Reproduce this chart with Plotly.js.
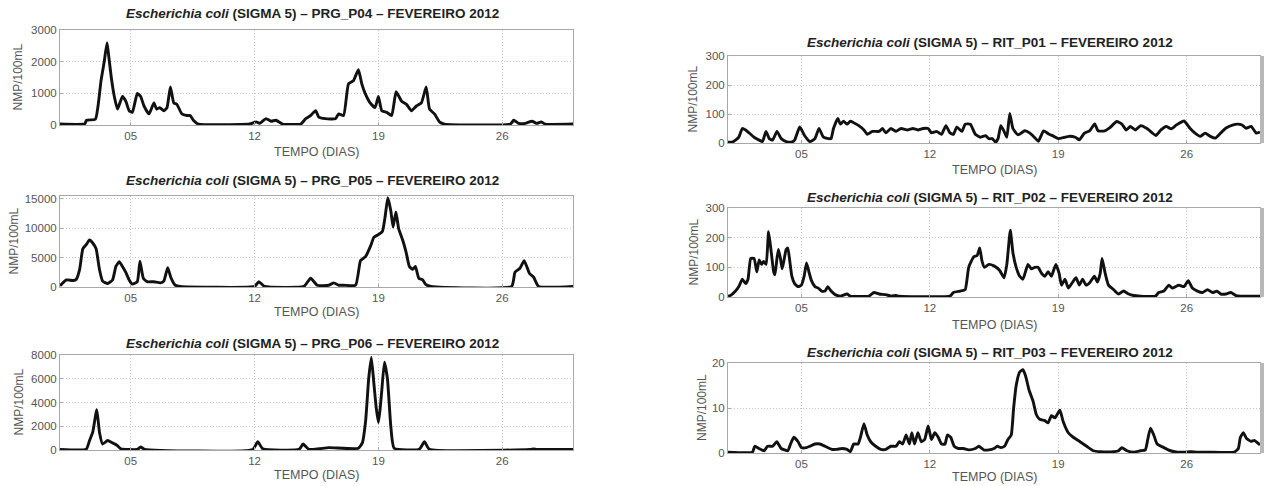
<!DOCTYPE html>
<html><head><meta charset="utf-8">
<script src="https://cdn.plot.ly/plotly-3.0.1.min.js"></script>
<style>html,body{margin:0;padding:0;background:#fff;}#chart{width:1264px;height:486px;}</style>
</head><body><div id="chart"></div>
<script>
// ---- data ----
const dayTicks = [5, 12, 19, 26];
const dayTickLabels = ['05', '12', '19', '26'];
const monthLabel = 'FEVEREIRO 2012';
const stationNames = ['PRG_P04', 'PRG_P05', 'PRG_P06', 'RIT_P01', 'RIT_P02', 'RIT_P03'];

const p04Days = [1,2.4,2.5,3.0,3.15,3.32,3.5,3.66,3.75,3.9,4.07,4.25,4.53,4.72,4.91,5.09,5.37,5.56,5.75,6.03,6.31,6.46,6.64,6.87,7.05,7.24,7.43,7.61,7.89,8.17,8.36,8.54,8.82,11.72,12.09,12.28,12.65,12.93,13.21,13.58,14.61,14.89,15.17,15.45,15.63,16.0,16.57,16.75,17.03,17.31,17.59,17.87,18.06,18.25,18.53,18.81,19.0,19.19,19.47,19.75,20.0,20.31,20.59,20.87,21.15,21.43,21.7,21.89,22.17,22.45,22.73,26.46,26.65,26.93,27.3,27.68,27.96,28.2,28.42,30];
const p04Vals = [30,40,150,180,600,1400,2000,2600,2200,1500,900,500,900,750,450,400,1000,900,600,350,700,500,550,450,550,1200,700,650,350,300,300,150,30,30,100,50,200,120,150,30,30,200,300,450,250,200,200,350,300,1300,1400,1750,1300,1000,700,550,900,450,400,300,1050,750,650,450,600,700,1200,500,350,100,30,30,150,50,50,120,50,100,30,30];
const p04Ticks = [0, 1000, 2000, 3000];

const p05Days = [1,1.36,1.74,1.92,2.11,2.29,2.48,2.67,2.85,3.04,3.23,3.41,3.69,3.97,4.16,4.35,4.53,4.72,4.91,5.09,5.37,5.52,5.71,5.93,6.31,6.68,6.87,7.09,7.28,7.52,7.8,12.0,12.24,12.56,14.79,15.17,15.54,16.19,16.48,16.76,17.05,17.71,17.99,18.28,18.56,18.75,19.04,19.23,19.38,19.53,19.7,19.83,19.99,20.14,20.37,20.56,20.75,20.94,21.09,21.28,21.5,21.69,21.98,26.53,26.72,27.0,27.24,27.54,27.77,28.05,30];
const p05Vals = [200,1200,1100,1300,3000,6500,7200,8000,7500,6500,3000,1000,600,1200,3500,4300,3500,2500,1200,500,900,4400,1500,900,900,700,1000,3300,1500,300,100,100,900,100,100,1500,300,300,700,300,300,300,4500,5200,7000,8500,9000,9500,12000,15200,13000,10200,12800,10000,8000,6000,3500,3000,3500,1500,1200,400,100,100,2500,3200,4500,2300,1700,100,100];
const p05Ticks = [0, 5000, 10000, 15000];

const p06Days = [1,2.48,2.67,2.85,3.08,3.23,3.41,3.69,3.97,4.22,4.44,5.37,5.56,5.78,11.9,12.18,12.46,14.51,14.74,15.07,15.63,16.19,17.87,18.09,18.28,18.45,18.6,18.75,18.88,19.0,19.1,19.19,19.34,19.51,19.7,19.89,21.31,21.6,21.88,27.58,27.77,27.96,30];
const p06Vals = [50,60,800,1500,3400,1500,500,800,600,400,100,50,250,60,50,700,100,50,500,60,100,200,150,600,2500,6000,7800,5500,3500,2300,3500,5000,7400,6000,2000,150,60,700,60,50,80,50,50];
const p06Ticks = [0, 2000, 4000, 6000, 8000];

const r01Days = [1,1.22,1.41,1.59,1.78,1.96,2.15,2.42,2.7,2.88,3.07,3.25,3.43,3.67,3.9,4.17,4.45,4.63,4.91,5.18,5.46,5.74,5.96,6.2,6.47,6.62,6.75,6.99,7.12,7.3,7.49,7.67,7.85,8.13,8.41,8.59,8.87,9.24,9.42,9.6,9.88,10.16,10.43,10.8,11.08,11.35,11.63,11.91,12.09,12.37,12.64,12.88,13.1,13.29,13.47,13.75,13.93,14.21,14.48,14.76,15.04,15.22,15.41,15.59,15.72,15.87,16.05,16.2,16.36,16.53,16.81,17.18,17.46,17.74,17.92,18.2,18.48,18.76,19.0,19.32,19.59,19.96,20.15,20.43,20.71,20.99,21.17,21.54,21.82,22.19,22.47,22.71,22.93,23.21,23.49,23.86,24.14,24.32,24.6,24.88,25.16,25.44,25.86,26.18,26.46,26.74,27.01,27.29,27.57,27.85,28.13,28.5,28.78,29.02,29.24,29.52,29.8,30];
const r01Vals = [3,3,10,20,50,45,35,20,10,5,40,15,10,40,15,5,3,10,55,25,5,15,50,20,15,15,50,85,65,75,65,75,70,60,45,30,40,40,50,35,50,40,50,45,50,45,50,50,35,40,30,60,35,30,55,40,65,65,30,20,25,15,15,3,15,60,40,20,102,50,28,42,34,17,6,42,31,23,15,19,23,19,11,34,42,66,42,42,53,74,65,45,57,45,60,49,34,26,45,57,49,62,76,51,34,23,34,23,17,34,51,62,65,62,51,57,34,38];
const r01Ticks = [0, 100, 200, 300];

const r02Days = [1.0,1.13,1.41,1.59,1.78,1.96,2.09,2.24,2.42,2.57,2.7,2.83,2.94,3.08,3.21,3.34,3.49,3.56,3.67,3.75,3.86,3.95,4.04,4.17,4.26,4.37,4.48,4.63,4.82,5.0,5.15,5.28,5.41,5.55,5.74,5.92,6.1,6.29,6.44,6.62,6.84,7.12,7.49,7.67,8.68,8.96,9.24,9.6,9.88,10.16,10.34,13.1,13.29,13.66,13.93,14.12,14.39,14.58,14.72,14.85,14.98,15.22,15.5,15.8,16.05,16.2,16.39,16.53,16.71,16.9,17.08,17.35,17.54,17.72,17.9,18.09,18.27,18.45,18.63,18.87,19.05,19.18,19.37,19.55,19.73,19.97,20.15,20.33,20.52,20.74,20.97,21.14,21.29,21.39,21.56,21.74,22.02,22.29,22.56,22.84,23.11,23.48,24.3,24.48,24.76,25.03,25.22,25.4,25.58,25.86,26.09,26.31,26.59,26.86,27.14,27.41,27.65,27.87,28.14,28.41,28.69,28.96,30];
const r02Vals = [3,5,20,35,60,45,60,130,130,85,125,110,120,110,220,160,85,75,130,160,130,95,120,160,165,120,70,45,35,40,70,115,85,55,35,30,20,20,35,20,8,3,10,3,3,15,10,8,3,5,3,3,15,20,25,100,135,140,165,120,100,110,105,90,65,110,225,150,100,70,60,110,95,100,100,80,70,85,70,110,80,40,60,30,45,65,40,60,40,50,70,50,80,130,80,40,25,10,20,10,5,3,3,15,20,40,30,35,40,35,55,30,20,15,25,15,20,10,10,15,5,3,3];
const r02Ticks = [0, 100, 200, 300];

const r03Days = [1,2.33,2.46,2.7,2.97,3.16,3.43,3.66,3.9,4.26,4.41,4.59,4.82,5.0,5.28,5.46,5.74,6.01,6.29,6.66,6.93,7.21,7.49,7.67,7.85,8.09,8.22,8.41,8.59,8.78,9.05,9.33,9.6,9.88,10.16,10.34,10.52,10.71,10.89,11.02,11.17,11.35,11.54,11.72,11.91,12.09,12.27,12.46,12.64,12.83,12.96,13.14,13.33,13.56,13.84,14.12,14.48,14.67,14.94,15.22,15.5,15.68,15.87,16.07,16.26,16.44,16.57,16.71,16.9,17.08,17.23,17.41,17.63,17.81,17.99,18.27,18.45,18.63,18.82,19.09,19.27,19.55,19.82,20.19,20.55,20.92,21.29,22.02,22.29,22.47,22.75,23.11,23.48,23.75,23.88,24.03,24.21,24.39,24.76,25.12,25.49,25.86,26.22,26.59,27.14,28.6,28.82,28.93,29.09,29.27,29.51,29.69,29.88,30];
const r03Vals = [0.2,0.2,1.5,1,0.5,1.5,1.5,2.5,1,0.5,2,3.5,2.5,1.2,1.2,1.5,2,2,1.5,0.8,0.8,1,0.8,0.3,2,2,3.5,6.5,4,2.5,1.5,0.8,0.8,1.5,1.5,2.5,2,4,2,4.5,2,4.5,2.5,3,6,3,4.5,3.5,2,2,4,3.5,1.5,1,1,0.7,1,1.5,0.7,0.7,1,1.5,1.2,1.5,3,4,10,15,18,18.5,17,14,11.5,8.5,7.5,7.2,6.7,8.3,7.8,9.5,7,4.5,3.5,2.5,1.5,0.5,0.3,0.3,0.5,1.2,0.5,0.2,0.5,0.7,3,5.5,4,2,1.2,0.5,0.2,0.2,0.3,0.2,0.2,0.2,1,3.5,4.5,3.2,2.6,2.8,2.2,1.8];
const r03Ticks = [0, 10, 20];

// ---- layout geometry (pixels) ----
const W = 1264, H = 486;
const px2x = p => p / W;
const px2y = p => 1 - p / H;
const series = [
  {days: p04Days, vals: p04Vals, ticks: p04Ticks, ymax: 3000},
  {days: p05Days, vals: p05Vals, ticks: p05Ticks, ymax: 15500},
  {days: p06Days, vals: p06Vals, ticks: p06Ticks, ymax: 8000},
  {days: r01Days, vals: r01Vals, ticks: r01Ticks, ymax: 300},
  {days: r02Days, vals: r02Vals, ticks: r02Ticks, ymax: 300},
  {days: r03Days, vals: r03Vals, ticks: r03Ticks, ymax: 20}
];
const boxes = [
  {l: 60, r: 573, t: 30, b: 125, ty: 13, xty: 152, ytx: 18},
  {l: 60, r: 573, t: 196, b: 287, ty: 180, xty: 312, ytx: 13},
  {l: 60, r: 573, t: 355, b: 450, ty: 343, xty: 475, ytx: 18},
  {l: 728, r: 1260, t: 56, b: 143, ty: 43, xty: 170, ytx: 693},
  {l: 728, r: 1260, t: 208, b: 297, ty: 197, xty: 325, ytx: 693},
  {l: 728, r: 1260, t: 363, b: 453, ty: 352, xty: 477, ytx: 702}
];

const FONT = 'Liberation Sans, Arial, sans-serif';
const traces = [];
const layout = {
  width: W, height: H, margin: {l: 0, r: 0, t: 0, b: 0},
  paper_bgcolor: '#fff', plot_bgcolor: '#fff', showlegend: false,
  font: {family: FONT, color: '#555'},
  annotations: [], shapes: []
};

series.forEach((s, i) => {
  const n = i === 0 ? '' : String(i + 1);
  const bx = boxes[i];
  traces.push({
    x: s.days, y: s.vals, xaxis: 'x' + n, yaxis: 'y' + n,
    type: 'scatter', mode: 'lines', hoverinfo: 'skip',
    line: {color: '#111', width: 2.9, shape: 'spline', smoothing: 0.45}
  });
  const common = {
    showgrid: true, gridcolor: '#c4c4c4', griddash: '1px,2px', gridwidth: 1,
    showline: true, mirror: true, linecolor: '#a8a8a8', linewidth: 1,
    ticks: 'inside', ticklen: 3, tickcolor: '#a8a8a8',
    tickfont: {family: FONT, size: 11.5, color: '#555'},
    zeroline: false, fixedrange: true
  };
  layout['xaxis' + n] = Object.assign({}, common, {
    domain: [px2x(bx.l), px2x(bx.r)], range: [1, 30], anchor: 'y' + n,
    tickmode: 'array', tickvals: dayTicks, ticktext: dayTickLabels
  });
  layout['yaxis' + n] = Object.assign({}, common, {
    domain: [px2y(bx.b), px2y(bx.t)], range: [0, s.ymax], anchor: 'x' + n,
    tickmode: 'array', tickvals: s.ticks, ticktext: s.ticks.map(String)
  });
  const cx = px2x((bx.l + bx.r) / 2);
  layout.annotations.push({
    xref: 'paper', yref: 'paper', x: px2x((bx.l + bx.r) / 2 - 4), y: px2y(bx.ty), xanchor: 'center', yanchor: 'middle',
    showarrow: false, text: '<b><i>Escherichia coli</i> (SIGMA 5) – ' + stationNames[i] + ' – ' + monthLabel + '</b>',
    font: {family: FONT, size: 13.5, color: '#222'}
  });
  layout.annotations.push({
    xref: 'paper', yref: 'paper', x: cx, y: px2y(bx.xty), xanchor: 'center', yanchor: 'middle',
    showarrow: false, text: 'TEMPO (DIAS)', font: {family: FONT, size: 12.5, color: '#555'}
  });
  layout.annotations.push({
    xref: 'paper', yref: 'paper', x: px2x(bx.ytx), y: px2y((bx.t + bx.b) / 2), xanchor: 'center', yanchor: 'middle',
    showarrow: false, textangle: -90, text: 'NMP/100mL', font: {family: FONT, size: 12, color: '#555'}
  });
  if (i >= 3) {
    layout.shapes.push({
      type: 'rect', xref: 'paper', yref: 'y' + n + ' domain',
      x0: px2x(bx.r), x1: 1, y0: 0, y1: 1, fillcolor: '#b8b8b8', line: {width: 0}, layer: 'above'
    });
  }
});

Plotly.newPlot('chart', traces, layout, {displayModeBar: false, staticPlot: true});
</script>
</body></html>
